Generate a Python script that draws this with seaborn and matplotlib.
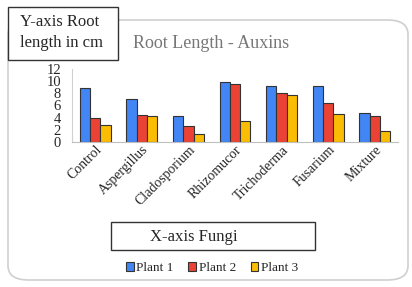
import pandas as pd
import seaborn as sns
import matplotlib.pyplot as plt
from matplotlib.patches import FancyBboxPatch, Rectangle

fungi = ["Control", "Aspergillus", "Cladosporium", "Rhizomucor",
         "Trichoderma", "Fusarium", "Mixture"]
plant1 = [8.9, 7.0, 4.3, 9.8, 9.2, 9.2, 4.7]
plant2 = [3.9, 4.5, 2.7, 9.6, 8.1, 6.4, 4.2]
plant3 = [2.8, 4.2, 1.25, 3.4, 7.8, 4.6, 1.8]
series = ["Plant 1", "Plant 2", "Plant 3"]
colors = ["#4285F4", "#EA4335", "#FBBC04"]

df = pd.DataFrame({"Fungi": fungi * 3,
                   "Root length": plant1 + plant2 + plant3,
                   "Plant": [s for s in series for _ in fungi]})

sns.set_style("white")
plt.rcParams["font.family"] = ["Liberation Serif", "DejaVu Serif"]

fig = plt.figure(figsize=(4.12, 2.87), dpi=100)
W, H = 412, 287

# outer rounded frame
fig.patches.append(FancyBboxPatch((8 / W, 7 / H), 400 / W, 260 / H,
                                  boxstyle="round,pad=0,rounding_size=0.05",
                                  transform=fig.transFigure, fill=False,
                                  edgecolor="#cfcfcf", linewidth=1.2))

ax = fig.add_axes([72 / W, 1 - 142 / H, 326 / W, 73 / H])
sns.barplot(data=df, x="Fungi", y="Root length", hue="Plant",
            palette=colors, width=0.66, edgecolor="#333333", linewidth=0.8,
            saturation=1, ax=ax)
ax.set_ylim(0, 12)
ax.set_yticks([0, 2, 4, 6, 8, 10, 12])
ax.set_xlabel("")
ax.set_ylabel("")
ax.tick_params(axis="y", labelsize=10.5, pad=8, length=0)
ax.tick_params(axis="x", labelsize=10, pad=1, length=0)
plt.setp(ax.get_xticklabels(), rotation=45, ha="right", rotation_mode="anchor")
for s in ["top", "right"]:
    ax.spines[s].set_visible(False)
ax.spines["left"].set_color("#d0d0d0")
ax.spines["bottom"].set_color("#bfbfbf")
ax.legend_.remove()

fig.text(133 / W, 1 - 44 / H, "Root Length - Auxins", fontsize=13,
         color="#777777", va="center", ha="left")

# Y-axis annotation box
fig.patches.append(Rectangle((8 / W, 1 - 60 / H), 110 / W, 53 / H,
                             transform=fig.transFigure, facecolor="white",
                             edgecolor="#333333", linewidth=1))
fig.text(20 / W, 1 - 22 / H, "Y-axis Root", fontsize=12, va="center", ha="left")
fig.text(20 / W, 1 - 43 / H, "length in cm", fontsize=12, va="center", ha="left")

# X-axis annotation box
fig.patches.append(Rectangle((111 / W, 1 - 250 / H), 204 / W, 28 / H,
                             transform=fig.transFigure, facecolor="white",
                             edgecolor="#333333", linewidth=1))
fig.text(150 / W, 1 - 237 / H, "X-axis Fungi", fontsize=12, va="center", ha="left")

handles = [Rectangle((0, 0), 1, 1, facecolor=c, edgecolor="#333333", linewidth=0.8)
           for c in colors]
fig.legend(handles, series, loc="center", bbox_to_anchor=(212 / W, 1 - 268 / H),
           ncol=3, frameon=False, fontsize=9.5, handlelength=0.6, handleheight=0.6,
           handletextpad=0.2, columnspacing=1.1)

fig.savefig("out.png", dpi=100)
